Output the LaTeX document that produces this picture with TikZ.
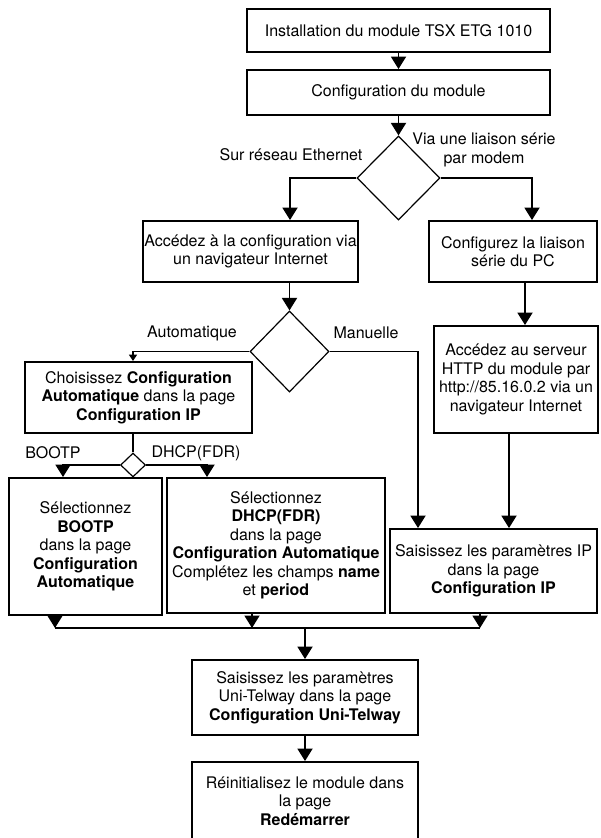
\documentclass[tikz,border=0pt]{standalone}
\usepackage{fontspec}
\setmainfont{TeX Gyre Heros}
\usetikzlibrary{arrows.meta,shapes.geometric}
\begin{document}
\begin{tikzpicture}[x=1pt,y=-1pt,line width=1.9pt,
  box/.style={draw,rectangle,inner sep=0pt,align=center,font=\fontsize{16}{18.5}\selectfont},
  dia/.style={draw,diamond,inner sep=0pt,line width=1.2pt},
  lbl/.style={inner sep=0pt,align=center,font=\fontsize{16}{18.5}\selectfont},
  arr/.style={-{Triangle[length=12.5pt,width=15pt]}},
  sarr/.style={-{Triangle[length=6.5pt,width=8pt]}}]
\useasboundingbox (0,0) rectangle (601,838);

% boxes
\node[box,minimum width=303pt,minimum height=43pt] (inst) at (398.5,30.5) {Installation du module TSX ETG 1010};
\node[box,minimum width=303pt,minimum height=45pt] (conf) at (398.5,92.5) {Configuration du module};
\node[dia,minimum width=83pt,minimum height=84pt] (d1) at (398.5,178) {};
\node[box,minimum width=215pt,minimum height=61pt] (eth) at (250.5,251.5) {Accédez à la configuration via\\un navigateur Internet};
\node[box,minimum width=168pt,minimum height=61pt] (ser) at (513,251.5) {Configurez la liaison\\série du PC};
\node[dia,minimum width=79pt,minimum height=81pt] (d2) at (289.5,351.5) {};
\node[box,minimum width=164pt,minimum height=107pt] (http) at (516,379.5) {Accédez au serveur\\HTTP du module par\\http://85.16.0.2 via un\\navigateur Internet};
\node[box,minimum width=227pt,minimum height=71pt] (choi) at (138.5,397.5) {Choisissez \textbf{Configuration}\\\textbf{Automatique} dans la page\\\textbf{Configuration IP}};
\node[dia,minimum width=25pt,minimum height=24pt] (d3) at (133,465) {};
\node[box,minimum width=153pt,minimum height=137pt] (boot) at (85.5,546.5) {Sélectionnez\\\textbf{BOOTP}\\dans la page\\\textbf{Configuration}\\\textbf{Automatique}};
\node[box,minimum width=218pt,minimum height=135pt] (dhcp) at (276,545.5) {Sélectionnez\\\textbf{DHCP(FDR)}\\dans la page\\\textbf{Configuration Automatique}\\Complétez les champs \textbf{name}\\et \textbf{period}};
\node[box,minimum width=207pt,minimum height=84pt] (ipm) at (493.5,571) {Saisissez les paramètres IP\\dans la page\\\textbf{Configuration IP}};
\node[box,minimum width=226pt,minimum height=75pt] (uni) at (305,697.5) {Saisissez les paramètres\\Uni-Telway dans la page\\\textbf{Configuration Uni-Telway}};
\node[box,minimum width=226pt,minimum height=78pt] (red) at (305,801) {Réinitialisez le module dans\\la page\\\textbf{Redémarrer}};

% labels
\node[lbl] (l1) at (291,155) {Sur réseau Ethernet};
\node[lbl] (l2) at (484,150) {Via une liaison série\\par modem};
\node[lbl] (l3) at (192,333) {Automatique};
\node[lbl] (l4) at (366,333) {Manuelle};
\node[lbl] (l5) at (53,453) {BOOTP};
\node[lbl] (l6) at (196,453) {DHCP(FDR)};

% helper coordinates
\coordinate (ethin) at (290,0);
\coordinate (serin) at (532,0);
\coordinate (choiin) at (133,0);
\coordinate (manx) at (418,0);
\coordinate (httpx) at (525,0);
\coordinate (ipx) at (509,0);
\coordinate (bootin) at (63,0);
\coordinate (dhcpin) at (207,0);
\coordinate (mL) at (55,628);
\coordinate (mD) at (252,628);
\coordinate (mR) at (480,628);
\coordinate (mC) at (305,628);

% connectors
\draw[arr] (inst) -- (conf);
\draw[arr] (conf) -- (d1.north);
\draw[arr] (d1.west) -| (eth.north -| ethin);
\draw[arr] (d1.east) -| (ser.north -| serin);
\draw[arr] (eth.south -| d2.north) -- (d2.north);
\draw[sarr] (d2.west) -| (choi.north -| choiin);
\draw[arr] (d2.east) -| (ipm.north -| manx);
\draw[arr] (ser.south -| httpx) -- (http.north -| httpx);
\draw[arr] (http.south -| ipx) -- (ipm.north -| ipx);
\draw (choi.south -| d3.north) -- (d3.north);
\draw[arr] (d3.west) -| (boot.north -| bootin);
\draw[arr] (d3.east) -| (dhcp.north -| dhcpin);
\draw[arr] (boot.south -| mL) -- (mL);
\draw[arr] (dhcp.south -| mD) -- (mD);
\draw[arr] (ipm.south -| mR) -- (mR);
\draw (mL) -- (mR);
\draw[arr] (mC) -- (uni.north);
\draw[arr] (uni) -- (red);
\end{tikzpicture}
\end{document}
